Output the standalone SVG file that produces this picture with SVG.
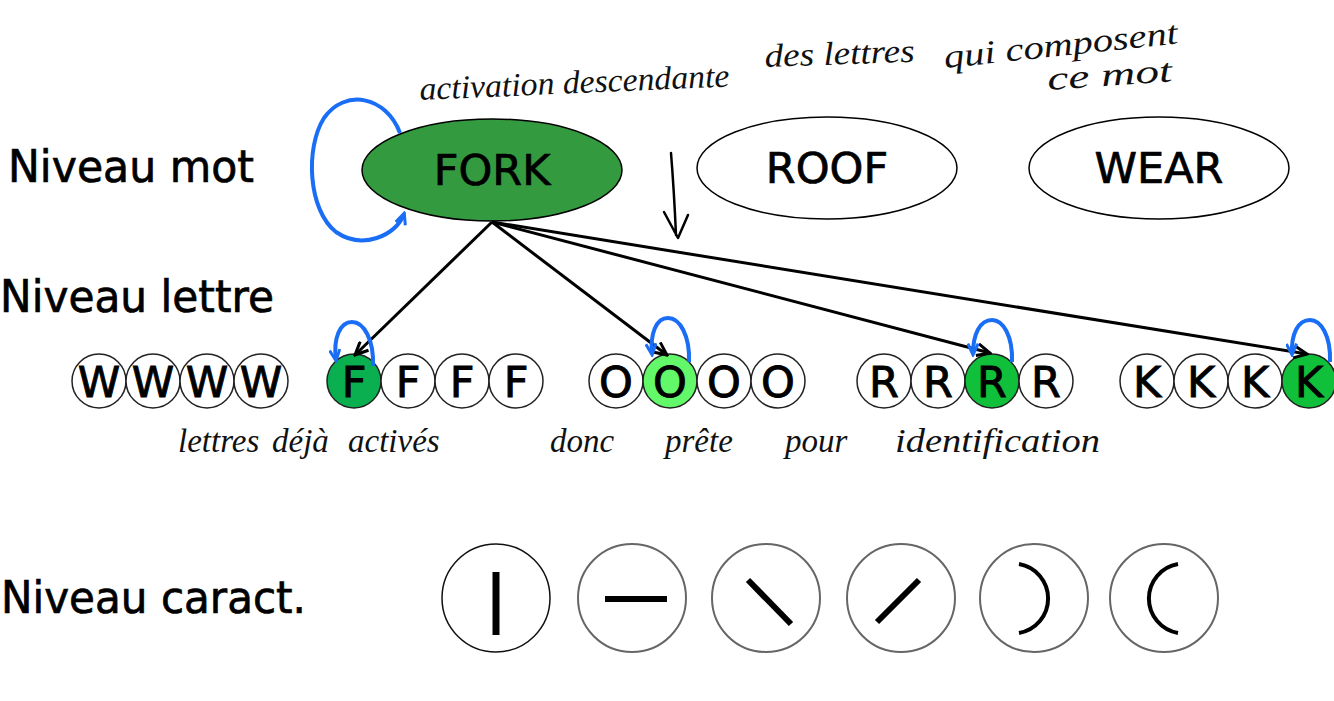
<svg xmlns="http://www.w3.org/2000/svg" width="1334" height="701" viewBox="0 0 1334 701">
<style>
.lbl{font-family:"DejaVu Sans","Liberation Sans",sans-serif;font-size:44px;fill:#000;stroke:#000;stroke-width:0.7}
.word{font-family:"DejaVu Sans","Liberation Sans",sans-serif;font-size:43px;fill:#000;stroke:#000;stroke-width:0.7;text-anchor:middle}
.let{font-family:"DejaVu Sans","Liberation Sans",sans-serif;font-size:43px;fill:#000;stroke:#000;stroke-width:0.9;text-anchor:middle}
.lc{stroke:#222;stroke-width:1.5;fill:#fff}
.fc{stroke:#666;stroke-width:2;fill:#fff}
.feat{stroke:#000;stroke-width:6;fill:none}
.hand{font-family:"Liberation Serif",serif;font-style:italic;font-size:33px;fill:#111}
.blk{stroke:#000;stroke-width:3;fill:none}
.blue{stroke:#1a6ef5;stroke-width:4;fill:none}
</style>
<defs>
<marker id="ah" markerUnits="userSpaceOnUse" viewBox="0 0 16 14" markerWidth="16" markerHeight="14" refX="14" refY="7" orient="auto">
<path d="M1,1 L14,7 L1,13" fill="none" stroke="#000" stroke-width="3"/>
</marker>
<marker id="bh" markerUnits="userSpaceOnUse" viewBox="0 0 16 14" markerWidth="14" markerHeight="12" refX="13" refY="7" orient="auto">
<path d="M1,1 L14,7 L1,13" fill="none" stroke="#1a6ef5" stroke-width="3.5"/>
</marker>
</defs>
<rect width="1334" height="701" fill="#fff"/>

<g id="labels">
<text class="lbl" x="8" y="182" textLength="246" lengthAdjust="spacingAndGlyphs">Niveau mot</text>
<text class="lbl" x="0" y="312" textLength="274" lengthAdjust="spacingAndGlyphs">Niveau lettre</text>
<text class="lbl" x="1" y="613" textLength="305" lengthAdjust="spacingAndGlyphs">Niveau caract.</text>
</g>

<g id="annotations">
<text class="hand" transform="rotate(-2.5 420 100)" x="420" y="100" textLength="310" lengthAdjust="spacingAndGlyphs">activation descendante</text>
<text class="hand" transform="rotate(-2 765 67)" x="765" y="67" textLength="150" lengthAdjust="spacingAndGlyphs">des lettres</text>
<text class="hand" transform="rotate(-6 945 68)" x="945" y="68" textLength="235" lengthAdjust="spacingAndGlyphs">qui composent</text>
<text class="hand" transform="rotate(-4 1048 90)" x="1048" y="90" textLength="125" lengthAdjust="spacingAndGlyphs">ce mot</text>
<text class="hand" y="452"><tspan x="178">lettres</tspan><tspan x="272">déjà</tspan><tspan x="348">activés</tspan><tspan x="550">donc</tspan><tspan x="665">prête</tspan><tspan x="785">pour</tspan></text>
<text class="hand" x="895" y="452" textLength="205" lengthAdjust="spacingAndGlyphs">identification</text>
<path id="down-arrow" d="M671,153 Q674,190 676,235 M664,212 L678,238 L688,215" fill="none" stroke="#000" stroke-width="2.5" stroke-linecap="round" stroke-linejoin="round"/>
</g>

<g id="node-fork">
<ellipse cx="492" cy="170" rx="130" ry="51" fill="#349a3f" stroke="#000" stroke-width="1.5"/>
<text class="word" x="492" y="185">FORK</text>
</g>
<g id="node-roof">
<ellipse cx="827" cy="168" rx="130" ry="51" fill="#fff" stroke="#000" stroke-width="1.5"/>
<text class="word" x="827" y="183">ROOF</text>
</g>
<g id="node-wear">
<ellipse cx="1159" cy="168" rx="130" ry="51" fill="#fff" stroke="#000" stroke-width="1.5"/>
<text class="word" x="1159" y="183">WEAR</text>
</g>

<g id="letters-w">
<circle class="lc" cx="99" cy="381" r="27"/><text class="let" x="99" y="397">W</text>
<circle class="lc" cx="153" cy="381" r="27"/><text class="let" x="153" y="397">W</text>
<circle class="lc" cx="207" cy="381" r="27"/><text class="let" x="207" y="397">W</text>
<circle class="lc" cx="261" cy="381" r="27"/><text class="let" x="261" y="397">W</text>
</g>
<g id="letters-f">
<circle class="lc" cx="354" cy="381" r="27" style="fill:#0aaf50"/><text class="let" x="354" y="397">F</text>
<circle class="lc" cx="408" cy="381" r="27"/><text class="let" x="408" y="397">F</text>
<circle class="lc" cx="462" cy="381" r="27"/><text class="let" x="462" y="397">F</text>
<circle class="lc" cx="516" cy="381" r="27"/><text class="let" x="516" y="397">F</text>
</g>
<g id="letters-o">
<circle class="lc" cx="616" cy="381" r="27"/><text class="let" x="616" y="397">O</text>
<circle class="lc" cx="670" cy="381" r="27" style="fill:#63f76a"/><text class="let" x="670" y="397">O</text>
<circle class="lc" cx="724" cy="381" r="27"/><text class="let" x="724" y="397">O</text>
<circle class="lc" cx="778" cy="381" r="27"/><text class="let" x="778" y="397">O</text>
</g>
<g id="letters-r">
<circle class="lc" cx="884" cy="381" r="27"/><text class="let" x="884" y="397">R</text>
<circle class="lc" cx="938" cy="381" r="27"/><text class="let" x="938" y="397">R</text>
<circle class="lc" cx="992" cy="381" r="27" style="fill:#10c03a"/><text class="let" x="992" y="397">R</text>
<circle class="lc" cx="1046" cy="381" r="27"/><text class="let" x="1046" y="397">R</text>
</g>
<g id="letters-k">
<circle class="lc" cx="1147" cy="381" r="27"/><text class="let" x="1147" y="397">K</text>
<circle class="lc" cx="1201" cy="381" r="27"/><text class="let" x="1201" y="397">K</text>
<circle class="lc" cx="1255" cy="381" r="27"/><text class="let" x="1255" y="397">K</text>
<circle class="lc" cx="1309" cy="381" r="27" style="fill:#10c03a"/><text class="let" x="1309" y="397">K</text>
</g>

<g id="features">
<g id="feat-vertical"><circle cx="496" cy="598" r="54" fill="#fff" stroke="#111" stroke-width="1.5"/><line class="feat" x1="496" y1="572" x2="496" y2="635" style="stroke-width:7"/></g>
<g id="feat-horizontal"><circle class="fc" cx="632" cy="598" r="54"/><line class="feat" x1="605" y1="599" x2="667" y2="599"/></g>
<g id="feat-backslash"><circle class="fc" cx="766" cy="598" r="54"/><line class="feat" x1="748" y1="580" x2="791" y2="624"/></g>
<g id="feat-slash"><circle class="fc" cx="901" cy="598" r="54"/><line class="feat" x1="877" y1="622" x2="919" y2="580"/></g>
<g id="feat-rparen"><circle class="fc" cx="1034" cy="598" r="54"/><path class="feat" d="M1019,564 A35,35 0 0 1 1019,633" style="stroke-width:4"/></g>
<g id="feat-lparen"><circle class="fc" cx="1164" cy="598" r="54"/><path class="feat" d="M1178,564 A35,35 0 0 0 1178,633" style="stroke-width:4"/></g>
</g>

<g id="connectors">
<line class="blk" x1="492" y1="222" x2="355" y2="355" marker-end="url(#ah)"/>
<line class="blk" x1="492" y1="222" x2="667" y2="355" marker-end="url(#ah)"/>
<line class="blk" x1="492" y1="222" x2="990" y2="353" marker-end="url(#ah)"/>
<line class="blk" x1="492" y1="222" x2="1307" y2="354" marker-end="url(#ah)"/>
<path class="blue" d="M400,133 C386,96 345,88 324,118 C305,148 308,210 336,232 C362,250 396,236 404,214" marker-end="url(#bh)"/>
<path class="blue" d="M373,366 C374,340 364,322 352,322 C340,322 333,338 336,360" marker-end="url(#bh)"/>
<path class="blue" d="M689,362 C690,336 680,318 668,318 C656,318 650,334 652,354" marker-end="url(#bh)"/>
<path class="blue" d="M1012,362 C1013,336 1003,320 992,320 C980,320 973,334 973,354" marker-end="url(#bh)"/>
<path class="blue" d="M1330,362 C1331,336 1321,320 1310,320 C1298,320 1291,334 1292,354" marker-end="url(#bh)"/>
</g>
</svg>
